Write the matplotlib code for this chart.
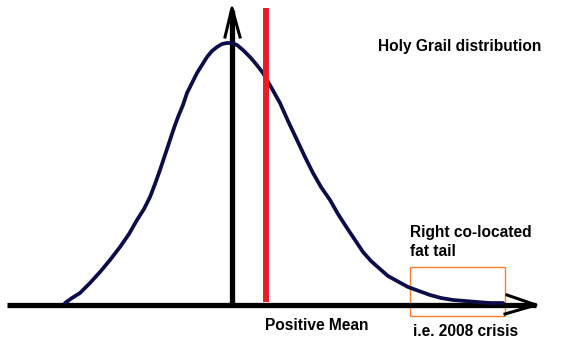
import matplotlib.pyplot as plt
from matplotlib.patches import Rectangle

plt.rcParams['font.family'] = ['Liberation Sans', 'DejaVu Sans']

# skewed density curve, traced in canvas units (x right, y down)
curve_x = [65, 72, 80, 90, 100, 110, 120, 129, 137, 144, 150, 155, 160, 165,
           170, 174, 178, 183, 187, 192, 197, 202, 207, 212, 217, 222, 227,
           232, 237, 243, 250, 256, 263, 271, 280, 288, 297, 305, 313, 321,
           330, 338, 347, 355, 363, 371, 380, 388, 397, 408, 419, 430, 441,
           453, 465, 477, 490, 503]
curve_y = [303, 298, 293, 283, 272, 260, 247, 234, 220, 209, 197, 184, 170, 155,
           140, 128, 117, 105, 93, 83, 73, 65, 57, 51, 47, 44, 43,
           43, 45, 50, 57, 64, 73, 87, 103, 121, 140, 157, 173, 187,
           200, 214, 228, 240, 252, 261, 269, 276, 281, 287, 291, 295, 298,
           300, 301, 302, 303, 303]

mean_x = 266
axis_y = 305
origin_x = 232
tail_box = (410, 267, 95, 49)  # x, y, width, height

fig = plt.figure(figsize=(5.62, 3.5), dpi=100)
ax = fig.add_axes([0, 0, 1, 1])
ax.set_xlim(0, 562)
ax.set_ylim(350, 0)
ax.axis('off')

# x axis with arrow head
ax.plot([7, 536], [axis_y, axis_y], color='black', lw=3.8, solid_capstyle='butt')
ax.plot([507, 536, 505], [295, axis_y, 314], color='black', lw=2.2)

# y axis with arrow head
ax.plot([origin_x, origin_x], [axis_y, 10], color='black', lw=3.8, solid_capstyle='butt')
ax.plot([225, origin_x, 240], [37, 8, 37], color='black', lw=2.2)

# distribution
ax.plot(curve_x, curve_y, color='#0c0c48', lw=2.7, solid_capstyle='round',
        solid_joinstyle='round')

# mean marker
ax.plot([mean_x, mean_x], [8, 302], color='#ed1c24', lw=4.3, solid_capstyle='butt')

# fat tail box
ax.add_patch(Rectangle(tail_box[:2], tail_box[2], tail_box[3], fill=False,
                       edgecolor='#ff7f27', lw=1))

fs = 11.2
ax.text(378, 46, 'Holy Grail distribution', fontsize=fs, fontweight='bold',
        va='center', ha='left')
ax.text(410, 233, 'Right co-located', fontsize=fs, fontweight='bold',
        va='center', ha='left')
ax.text(410, 252, 'fat tail', fontsize=fs, fontweight='bold',
        va='center', ha='left')
ax.text(265, 325, 'Positive Mean', fontsize=fs, fontweight='bold',
        va='center', ha='left')
ax.text(413, 332, 'i.e. 2008 crisis', fontsize=fs, fontweight='bold',
        va='center', ha='left')

fig.savefig('out.png', dpi=100)
